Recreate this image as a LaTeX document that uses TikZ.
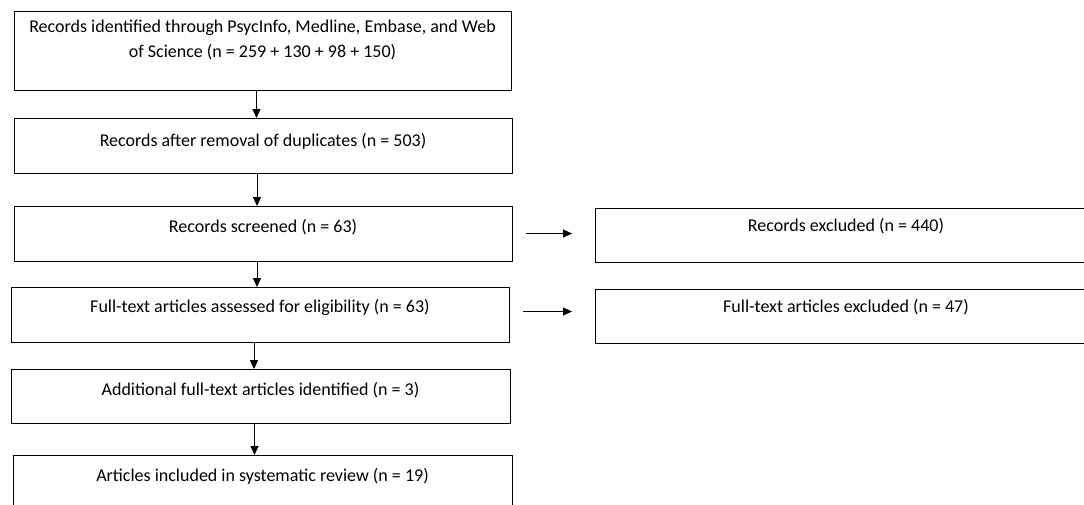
\documentclass[tikz,border=0pt]{standalone}
\usepackage{fontspec}
\setmainfont{Carlito}
\usetikzlibrary{arrows.meta}
\tikzset{stagebox/.style={draw, line width=1pt, anchor=north west, inner sep=0pt, outer sep=0pt}}
\tikzset{flow/.style={line width=1pt, -{Triangle[length=9pt,width=8pt]}}}
\newcommand{\stagetext}[4][9pt]{\parbox[t][#3][t]{#2}{\vspace*{#1}\centering\strut #4\par}}

\begin{document}
\begin{tikzpicture}[x=1pt,y=-1pt,font=\fontsize{18}{25}\selectfont]
\useasboundingbox (0,0) rectangle (1084,504);
\node[stagebox] (b1) at (14,11) {\stagetext[4pt]{497pt}{79pt}{Records identified through PsycInfo, Medline, Embase, and Web\\of Science (n = 259 + 130 + 98 + 150)}};
\node[stagebox] (b2) at (14,118) {\stagetext[11pt]{498pt}{55pt}{Records after removal of duplicates (n = 503)}};
\node[stagebox] (b3) at (14,206) {\stagetext{498pt}{55pt}{Records screened (n = 63)}};
\node[stagebox] (b4) at (11,287) {\stagetext[8pt]{498pt}{55pt}{Full-text articles assessed for eligibility (n = 63)}};
\node[stagebox] (b5) at (11,369) {\stagetext{499pt}{54pt}{Additional full-text articles identified (n = 3)}};
\node[stagebox] (b6) at (13,455) {\stagetext{499pt}{55pt}{Articles included in systematic review (n = 19)}};
\node[stagebox] (r1) at (595,208) {\stagetext[6pt]{502pt}{54pt}{Records excluded (n = 440)}};
\node[stagebox] (r2) at (595,289) {\stagetext[6pt]{502pt}{54pt}{Full-text articles excluded (n = 47)}};
\foreach \a/\b in {b1/b2,b2/b3,b3/b4,b4/b5,b5/b6}
  \draw[flow] ([xshift=-6pt]\a.south) -- ([xshift=-6pt]\a.south |- \b.north);
\draw[flow] ([xshift=14pt]b3.east) -- ([xshift=-23pt]b3.east -| r1.west);
\draw[flow] ([xshift=14pt,yshift=3pt]b4.east) -- ([xshift=-23pt,yshift=3pt]b4.east -| r2.west);
\end{tikzpicture}
\end{document}
